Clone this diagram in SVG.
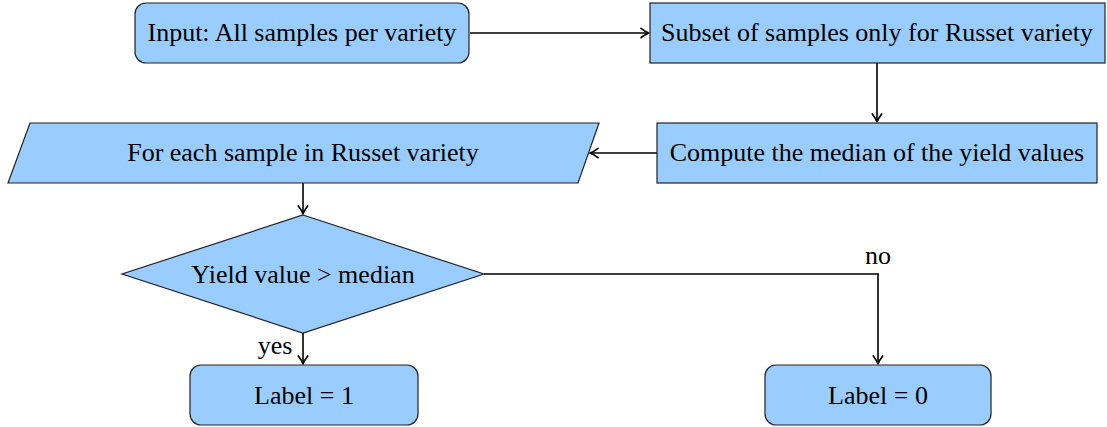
<svg xmlns="http://www.w3.org/2000/svg" width="1107" height="427" viewBox="0 0 1107 427">
<defs>
<marker id="arr" markerWidth="14" markerHeight="14" refX="11" refY="7" orient="auto" markerUnits="userSpaceOnUse">
<path d="M3,2.3 Q7.5,5.8 11,7 Q7.5,8.2 3,11.7" fill="none" stroke="#000" stroke-width="1.7" stroke-linecap="round" stroke-linejoin="round"/>
</marker>
<style>
.n{fill:#99ccff;stroke:#222;stroke-width:1.2}
.t{font-size:26px;fill:#000;text-anchor:middle}
.c{fill:none;stroke:#000;stroke-width:1.6}
</style>
</defs>
<g font-family="Liberation Serif, DejaVu Serif, serif">
<g id="connectors">
<path class="c" d="M470,33 H649" marker-end="url(#arr)"/>
<path class="c" d="M877,63 V122" marker-end="url(#arr)"/>
<path class="c" d="M657,153 H590" marker-end="url(#arr)"/>
<path class="c" d="M303,183 V214" marker-end="url(#arr)"/>
<path class="c" d="M303,333 V364" marker-end="url(#arr)"/>
<path class="c" d="M484,274 H878 V364" marker-end="url(#arr)"/>
<text class="t" x="275" y="354">yes</text>
<text class="t" x="878" y="264">no</text>
</g>
<g id="input">
<rect class="n" x="135" y="3" width="334" height="60" rx="11"/>
<text class="t" x="302" y="41">Input: All samples per variety</text>
</g>
<g id="subset">
<rect class="n" x="650" y="3" width="455" height="60"/>
<text class="t" x="877" y="41">Subset of samples only for Russet variety</text>
</g>
<g id="median">
<rect class="n" x="657" y="123" width="440" height="60"/>
<text class="t" x="877" y="161">Compute the median of the yield values</text>
</g>
<g id="foreach">
<polygon class="n" points="30,123 599,123 578,183 8,183"/>
<text class="t" x="303" y="161">For each sample in Russet variety</text>
</g>
<g id="decision">
<polygon class="n" points="303,215 484,274 303,333 122,274"/>
<text class="t" x="303" y="283">Yield value &gt; median</text>
</g>
<g id="label1">
<rect class="n" x="190" y="365" width="228" height="60" rx="11"/>
<text class="t" x="304" y="404">Label = 1</text>
</g>
<g id="label0">
<rect class="n" x="765" y="365" width="226" height="60" rx="11"/>
<text class="t" x="878" y="404">Label = 0</text>
</g>
</g>
</svg>
